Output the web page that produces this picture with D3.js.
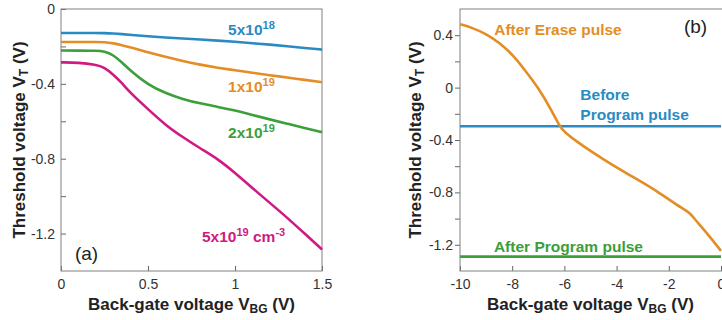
<!DOCTYPE html>
<meta charset="utf-8">
<html>
<style>
 body { margin:0; background:#fff; }
 svg { display:block; font-family:"Liberation Sans", Arial, sans-serif; }
</style>
<script src="https://d3js.org/d3.v7.min.js"></script>
<svg width="722" height="320"></svg>
<script>
// ---- data ----
// panel (a): threshold voltage vs back-gate voltage for four doping levels
const vbgA   = [0, 0.1, 0.2, 0.25, 0.3, 0.35, 0.4, 0.5, 0.6, 0.7, 0.8, 0.9, 1.0, 1.1, 1.2, 1.3, 1.4, 1.5];
const vt5e18 = [-0.128, -0.128, -0.128, -0.129, -0.131, -0.134, -0.138, -0.146, -0.153, -0.158, -0.163, -0.169, -0.175, -0.183, -0.19, -0.199, -0.208, -0.217];
const vt1e19 = [-0.176, -0.176, -0.176, -0.177, -0.183, -0.193, -0.205, -0.232, -0.256, -0.278, -0.298, -0.314, -0.327, -0.341, -0.354, -0.366, -0.379, -0.391];
const vt2e19 = [-0.222, -0.222, -0.223, -0.226, -0.245, -0.285, -0.33, -0.405, -0.45, -0.482, -0.505, -0.523, -0.542, -0.566, -0.59, -0.613, -0.636, -0.658];
const vt5e19 = [-0.285, -0.286, -0.297, -0.312, -0.35, -0.395, -0.45, -0.535, -0.62, -0.685, -0.745, -0.80, -0.875, -0.957, -1.036, -1.115, -1.2, -1.285];

// panel (b): erase / program
const vbgB    = [-10, -9.5, -9, -8.5, -8, -7.5, -7, -6.5, -6.2, -6, -5.5, -5, -4.5, -4, -3.5, -3, -2.5, -2, -1.5, -1.2, -1, -0.5, 0];
const vtErase = [0.484, 0.455, 0.41, 0.345, 0.255, 0.13, 0.0, -0.17, -0.29, -0.34, -0.415, -0.484, -0.548, -0.61, -0.668, -0.725, -0.785, -0.853, -0.92, -0.955, -1.006, -1.12, -1.246];
const vtBeforeProgram = -0.295;
const vtAfterProgram  = -1.29;

// ticks
const xTicksA = [0, 0.5, 1, 1.5];
const yTicksA = [0, -0.2, -0.4, -0.6, -0.8, -1.0, -1.2];
const yMajorA = [0, -0.4, -0.8, -1.2];
const xTicksB = [-10, -8, -6, -4, -2, 0];
const yTicksB = [0.4, 0.2, 0, -0.2, -0.4, -0.6, -0.8, -1.0, -1.2];
const yMajorB = [0.4, 0, -0.4, -0.8, -1.2];

const blue = "#2a8bc3", orange = "#e48d25", green = "#3ba03c", magenta = "#cf1a83";

const svg = d3.select('svg');

const plotTop = 9, plotBottom = 271;
const xA = d3.scaleLinear().domain([0, 1.5]).range([61, 322]);
const yA = d3.scaleLinear().domain([-1.4, 0]).range([plotBottom, plotTop]);
const xB = d3.scaleLinear().domain([-10, 0]).range([460, 721]);
const yB = d3.scaleLinear().domain([-1.4, 0.6]).range([plotBottom, plotTop]);

const styleAxis = (g) => {
	g.select(".domain").remove();
	g.selectAll(".tick line").attr("stroke", "#666");
	g.selectAll(".tick text").attr("fill", "#333").attr("font-size", 14).attr("font-family", "Liberation Sans, Arial, sans-serif");
}

// ---------- panel (a) ----------
svg.append('g')
	.attr('transform', `translate(0,${plotBottom})`)
	.call(d3.axisBottom(xA).tickValues(xTicksA).tickSize(-5).tickPadding(8).tickFormat(d => String(d)))
	.call(styleAxis);
svg.append('g')
	.attr('transform', `translate(${xA(0)},0)`)
	.call(d3.axisLeft(yA).tickValues(yTicksA).tickSize(-5).tickPadding(6)
		.tickFormat(d => yMajorA.includes(d) ? String(d) : ""))
	.call(styleAxis);
svg.append('rect')
	.attr('x', xA(0)).attr('y', plotTop)
	.attr('width', xA(1.5) - xA(0)).attr('height', plotBottom - plotTop)
	.attr('fill', 'none').attr('stroke', '#808080').attr('stroke-width', 1);

const lineA = d3.line().x(d => xA(d[0])).y(d => yA(d[1])).curve(d3.curveBasis);
[[vt5e18, blue], [vt1e19, orange], [vt2e19, green], [vt5e19, magenta]].forEach(([vals, c]) => {
	svg.append('path')
		.datum(vbgA.map((v, i) => [v, vals[i]]))
		.attr('d', lineA)
		.attr('fill', 'none')
		.attr('stroke', c)
		.attr('stroke-width', 2.6);
});

// series labels with superscripts
const supLabel = (x, y, base, sup, color, tail, tailSup) => {
	const t = svg.append('text')
		.attr('x', x).attr('y', y)
		.attr('fill', color)
		.attr('font-weight', 'bold')
		.attr('font-size', 15.5);
	t.append('tspan').text(base);
	t.append('tspan').attr('font-size', 11).attr('dy', -6).text(sup);
	if (tail) {
		t.append('tspan').attr('dy', 6).text(tail);
		t.append('tspan').attr('font-size', 11).attr('dy', -6).text(tailSup);
	}
}
supLabel(xA(0.96), yA(-0.139), "5x10", "18", blue);
supLabel(xA(0.96), yA(-0.443), "1x10", "19", orange);
supLabel(xA(0.96), yA(-0.689), "2x10", "19", green);
supLabel(xA(0.81), yA(-1.245), "5x10", "19", magenta, " cm", "-3");

svg.append('text')
	.attr('x', xA(0.08)).attr('y', yA(-1.341))
	.attr('font-size', 19).attr('fill', '#222')
	.text("(a)");

// ---------- panel (b) ----------
svg.append('g')
	.attr('transform', `translate(0,${plotBottom})`)
	.call(d3.axisBottom(xB).tickValues(xTicksB).tickSize(-5).tickPadding(8).tickFormat(d => String(d)))
	.call(styleAxis);
svg.append('g')
	.attr('transform', `translate(${xB(-10)},0)`)
	.call(d3.axisLeft(yB).tickValues(yTicksB).tickSize(5).tickPadding(2)
		.tickFormat(d => yMajorB.includes(d) ? String(d) : ""))
	.call(styleAxis);
svg.append('rect')
	.attr('x', xB(-10)).attr('y', plotTop)
	.attr('width', 270).attr('height', plotBottom - plotTop)
	.attr('fill', 'none').attr('stroke', '#808080').attr('stroke-width', 1);

const lineB = d3.line().x(d => xB(d[0])).y(d => yB(d[1])).curve(d3.curveBasis);
svg.append('path')
	.datum(xB.domain().map(v => [v, vtBeforeProgram]))
	.attr('d', lineB).attr('fill', 'none').attr('stroke', blue).attr('stroke-width', 2.6);
svg.append('path')
	.datum(xB.domain().map(v => [v, vtAfterProgram]))
	.attr('d', lineB).attr('fill', 'none').attr('stroke', green).attr('stroke-width', 2.6);
svg.append('path')
	.datum(vbgB.map((v, i) => [v, vtErase[i]]))
	.attr('d', lineB).attr('fill', 'none').attr('stroke', orange).attr('stroke-width', 2.6);

const plainLabel = (x, y, txt, color) => svg.append('text')
	.attr('x', x).attr('y', y)
	.attr('fill', color).attr('font-weight', 'bold').attr('font-size', 15.5)
	.text(txt);
plainLabel(xB(-8.69), yB(0.40), "After Erase pulse", orange);
plainLabel(xB(-5.39), yB(-0.095), "Before", blue);
plainLabel(xB(-5.39), yB(-0.247), "Program pulse", blue);
plainLabel(xB(-8.7), yB(-1.253), "After Program pulse", green);

svg.append('text')
	.attr('x', xB(-1.42)).attr('y', yB(0.417))
	.attr('font-size', 19).attr('fill', '#222')
	.text("(b)");

// ---------- axis titles ----------
const xTitle = (cx) => {
	const t = svg.append('text')
		.attr('x', cx).attr('y', 310)
		.attr('text-anchor', 'middle')
		.attr('font-weight', 'bold').attr('font-size', 17).attr('fill', '#222');
	t.append('tspan').text("Back-gate voltage V");
	t.append('tspan').attr('font-size', 12).attr('dy', 3).text("BG");
	t.append('tspan').attr('dy', -3).text(" (V)");
}
const yTitle = (bx) => {
	const t = svg.append('text')
		.attr('transform', `translate(${bx},${(plotTop + plotBottom) / 2}) rotate(-90)`)
		.attr('text-anchor', 'middle')
		.attr('font-weight', 'bold').attr('font-size', 17).attr('fill', '#222');
	t.append('tspan').text("Threshold voltage V");
	t.append('tspan').attr('font-size', 12).attr('dy', 3).text("T");
	t.append('tspan').attr('dy', -3).text(" (V)");
}
xTitle((xA(0) + xA(1.5)) / 2);
xTitle((xB(-10) + xB(0)) / 2);
yTitle(25);
yTitle(421);
</script>
</html>
